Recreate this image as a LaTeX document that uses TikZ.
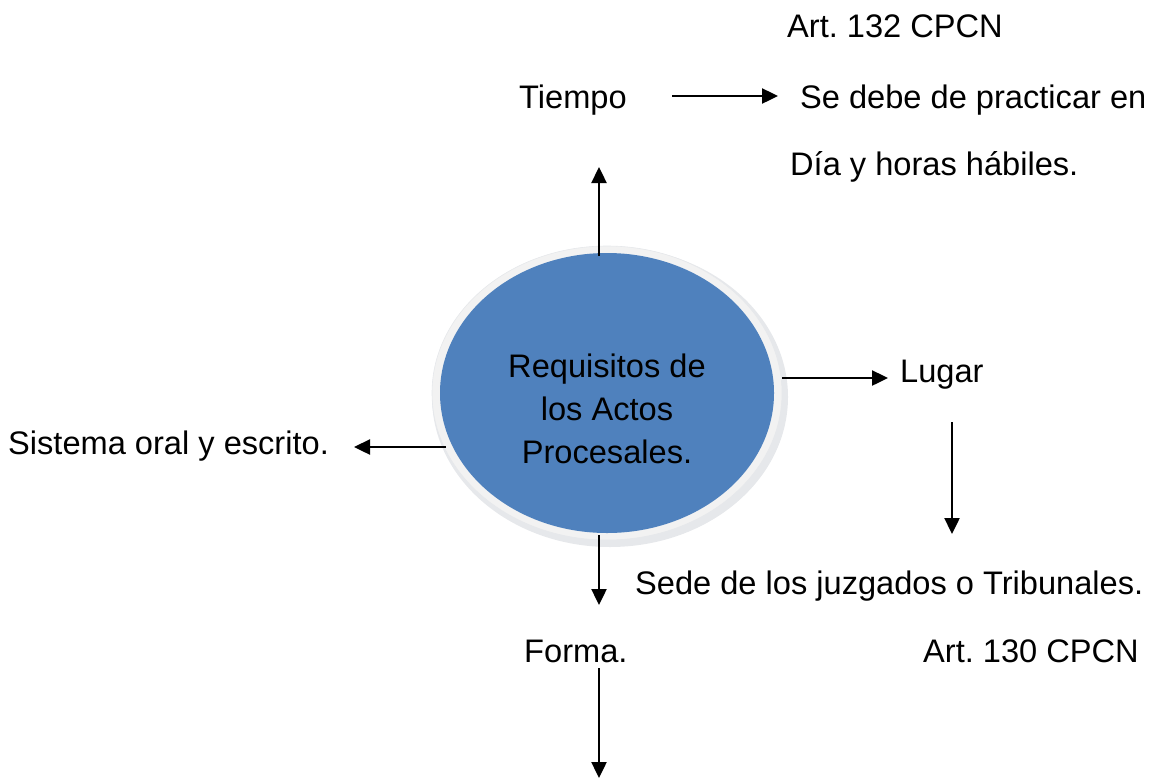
\documentclass[tikz,border=0pt]{standalone}
\usepackage{fontspec}
\setmainfont{Liberation Sans}
\usetikzlibrary{arrows.meta,shapes.geometric}
\definecolor{reqblue}{HTML}{4F81BD}
\definecolor{rimgrey}{HTML}{F2F2F2}
\definecolor{shadowgrey}{HTML}{9AA3B0}
\frenchspacing
\begin{document}
\begin{tikzpicture}[x=1pt,y=-1pt,
  lbl/.style={anchor=base west,inner sep=0pt,font=\fontsize{32.6}{43}\selectfont},
  arr/.style={line width=2.4pt,-{Triangle[length=16pt,width=15pt]}}]
\useasboundingbox (0,0) rectangle (1150,780);
% circle with rim and shadow
\fill[shadowgrey!50] (611,398) ellipse [x radius=176, y radius=148];
\fill[shadowgrey!25] (610,397) ellipse [x radius=178, y radius=150];
\fill[rimgrey] (607,393) ellipse [x radius=175, y radius=147];
\draw[shadowgrey!25,line width=0.6pt] (607,393) ellipse [x radius=175, y radius=147];
\node[ellipse,fill=reqblue,minimum width=334pt,minimum height=280pt,inner sep=0pt] (req) at (607,393) {};
\node[align=center,inner sep=0pt,font=\fontsize{32.6}{43}\selectfont] (reqtext) at (607,409)
  {Requisitos de\\los Actos\\Procesales.};
% texts
\node[lbl] (art132) at (787,37) {Art. 132 CPCN};
\node[lbl] (tiempo) at (519,108) {Tiempo};
\node[lbl] (sedebe) at (800,108) {Se debe de practicar en};
\node[lbl] (dia) at (790,175) {Día y horas hábiles.};
\node[lbl] (lugar) at (900,382) {Lugar};
\node[lbl] (sistema) at (8,454) {Sistema oral y escrito.};
\node[lbl] (sede) at (635,594) {Sede de los juzgados o Tribunales.};
\node[lbl] (forma) at (524,662) {Forma.};
\node[lbl] (art130) at (923,662) {Art. 130 CPCN};
% connector end points
\coordinate (upS) at (599,256);
\coordinate (upE) at (599,167);
\coordinate (tS) at (672,96);
\coordinate (tE) at (778,96);
\coordinate (lS) at (782,378);
\coordinate (lE) at (888,378);
\coordinate (ldS) at (952,422);
\coordinate (ldE) at (952,534);
\coordinate (sS) at (446,447);
\coordinate (sE) at (354,447);
\coordinate (dS) at (599,535);
\coordinate (dE) at (599,605);
\coordinate (fS) at (599,668);
\coordinate (fE) at (599,778);
% connectors
\draw[arr] (upS) -- (upE);
\draw[arr] (tS) -- (tE);
\draw[arr] (lS) -- (lE);
\draw[arr] (ldS) -- (ldE);
\draw[arr] (sS) -- (sE);
\draw[arr] (dS) -- (dE);
\draw[arr] (fS) -- (fE);
\end{tikzpicture}
\end{document}
